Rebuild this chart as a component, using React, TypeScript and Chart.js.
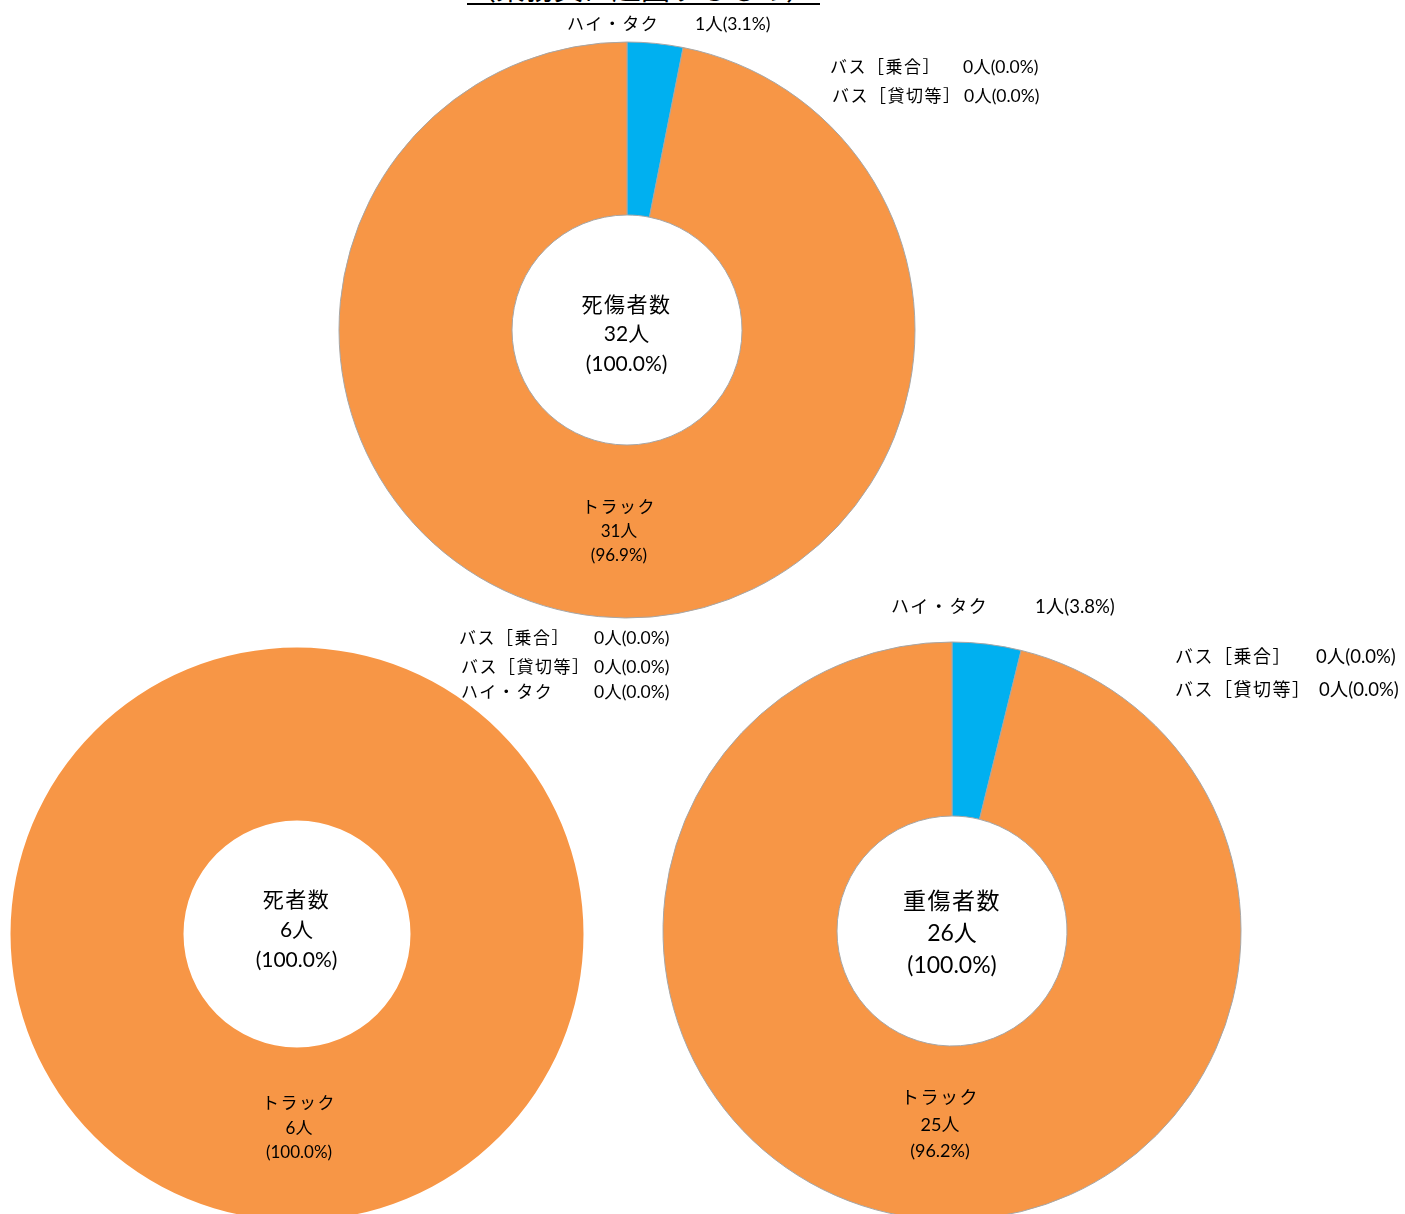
import React, { useEffect, useRef } from "react";
import { Chart, registerables } from "chart.js";

Chart.register(...registerables);

const categories = ["バス［乗合］", "バス［貸切等］", "ハイ・タク", "トラック"];
const casualtyValues = [0, 0, 1, 31];
const deathValues = [0, 0, 0, 6];
const seriousValues = [0, 0, 1, 25];
const centerTitles = ["死傷者数", "死者数", "重傷者数"];
const sliceColors = ["#4F81BD", "#C0504D", "#00B0F0", "#F79646"];
const titleText = "（乗務員に起因するもの）";

const FONT = 'Lato, "Noto Sans CJK JP", sans-serif';

type Lbl = { idx: number; nameX: number; valX: number; y: number };

type Cfg = {
  values: number[];
  title: string;
  cx: number;
  cy: number;
  r: number;
  inner: number;
  border: number;
  centerFont: number;
  centerLine: number;
  centerY: number;
  outFont: number;
  valFont: number;
  outLabels: Lbl[];
  truck: { x: number; y: number; line: number; font: number };
};

const charts: Cfg[] = [
  {
    values: casualtyValues,
    title: centerTitles[0],
    cx: 626.5,
    cy: 330,
    r: 288,
    inner: 115,
    border: 1,
    centerFont: 21,
    centerLine: 29.5,
    centerY: 333,
    outFont: 17,
    valFont: 17.5,
    outLabels: [
      { idx: 2, nameX: 567, valX: 695, y: 24 },
      { idx: 0, nameX: 830, valX: 963, y: 67 },
      { idx: 1, nameX: 832, valX: 964, y: 96 },
    ],
    truck: { x: 619, y: 531, line: 24, font: 17 },
  },
  {
    values: deathValues,
    title: centerTitles[1],
    cx: 296.5,
    cy: 934,
    r: 286.5,
    inner: 113.5,
    border: 0,
    centerFont: 21,
    centerLine: 30,
    centerY: 928.5,
    outFont: 17,
    valFont: 17.5,
    outLabels: [
      { idx: 0, nameX: 459, valX: 594, y: 638 },
      { idx: 1, nameX: 461, valX: 594, y: 667 },
      { idx: 2, nameX: 461, valX: 594, y: 692 },
    ],
    truck: { x: 299, y: 1128, line: 24.5, font: 17 },
  },
  {
    values: seriousValues,
    title: centerTitles[2],
    cx: 952,
    cy: 931,
    r: 289,
    inner: 115,
    border: 1,
    centerFont: 23,
    centerLine: 32,
    centerY: 932,
    outFont: 18,
    valFont: 18.5,
    outLabels: [
      { idx: 2, nameX: 891, valX: 1035, y: 606 },
      { idx: 0, nameX: 1175, valX: 1316, y: 656 },
      { idx: 1, nameX: 1175, valX: 1319, y: 689 },
    ],
    truck: { x: 940, y: 1124, line: 26.5, font: 18 },
  },
];

const S = 600;

function valText(v: number, total: number) {
  return `${v}人(${((v / total) * 100).toFixed(1)}%)`;
}

function Donut({ cfg }: { cfg: Cfg }) {
  const ref = useRef<HTMLCanvasElement | null>(null);
  useEffect(() => {
    if (!ref.current) return;
    const chart = new Chart(ref.current, {
      type: "doughnut",
      data: {
        labels: categories,
        datasets: [
          {
            data: cfg.values,
            backgroundColor: sliceColors,
            borderColor: "#A6A6A6",
            borderWidth: cfg.border,
          },
        ],
      },
      options: {
        responsive: false,
        animation: false,
        radius: cfg.r,
        cutout: ((cfg.inner / cfg.r) * 100).toFixed(3) + "%",
        layout: { padding: 0 },
        plugins: { legend: { display: false }, tooltip: { enabled: false }, title: { display: false } },
      } as any,
    });
    return () => chart.destroy();
  }, [cfg]);
  return (
    <canvas
      ref={ref}
      width={S}
      height={S}
      style={{ position: "absolute", left: cfg.cx - S / 2, top: cfg.cy - S / 2, width: S, height: S }}
    />
  );
}

function Labels({ cfg }: { cfg: Cfg }) {
  const total = cfg.values.reduce((a, b) => a + b, 0);
  const truckIdx = 3;
  const lh = 24;
  return (
    <>
      {cfg.outLabels.map((l, i) => (
        <React.Fragment key={i}>
          <div
            style={{
              position: "absolute",
              left: l.nameX,
              top: l.y - lh / 2,
              lineHeight: lh + "px",
              fontSize: cfg.outFont,
              letterSpacing: "1.5px",
              whiteSpace: "nowrap",
            }}
          >
            {categories[l.idx]}
          </div>
          <div
            style={{
              position: "absolute",
              left: l.valX,
              top: l.y - lh / 2,
              lineHeight: lh + "px",
              fontSize: cfg.valFont,
              whiteSpace: "nowrap",
            }}
          >
            {valText(cfg.values[l.idx], total)}
          </div>
        </React.Fragment>
      ))}
      <div
        style={{
          position: "absolute",
          left: cfg.truck.x - 100,
          width: 200,
          top: cfg.truck.y - cfg.truck.line * 1.5,
          textAlign: "center",
          fontSize: cfg.truck.font,
          lineHeight: cfg.truck.line + "px",
        }}
      >
        <div style={{ letterSpacing: "1.5px" }}>{categories[truckIdx]}</div>
        <div>{`${cfg.values[truckIdx]}人`}</div>
        <div>{`(${((cfg.values[truckIdx] / total) * 100).toFixed(1)}%)`}</div>
      </div>
      <div
        style={{
          position: "absolute",
          left: cfg.cx - 100,
          width: 200,
          top: cfg.centerY - cfg.centerLine * 1.5,
          textAlign: "center",
          fontSize: cfg.centerFont,
          lineHeight: cfg.centerLine + "px",
        }}
      >
        <div style={{ letterSpacing: "1.5px" }}>{cfg.title}</div>
        <div>{`${total}人`}</div>
        <div>(100.0%)</div>
      </div>
    </>
  );
}

export default function App() {
  return (
    <div
      style={{
        position: "absolute",
        left: 0,
        top: 0,
        width: 1405,
        height: 1214,
        overflow: "hidden",
        background: "#fff",
        fontFamily: FONT,
        color: "#000",
      }}
    >
      <div
        style={{
          position: "absolute",
          left: 467,
          top: -26,
          fontSize: 29,
          lineHeight: "29px",
          whiteSpace: "nowrap",
          borderBottom: "2px solid #000",
          width: 353,
        }}
      >
        {titleText}
      </div>
      {charts.map((c, i) => (
        <React.Fragment key={i}>
          <Donut cfg={c} />
          <Labels cfg={c} />
        </React.Fragment>
      ))}
    </div>
  );
}
